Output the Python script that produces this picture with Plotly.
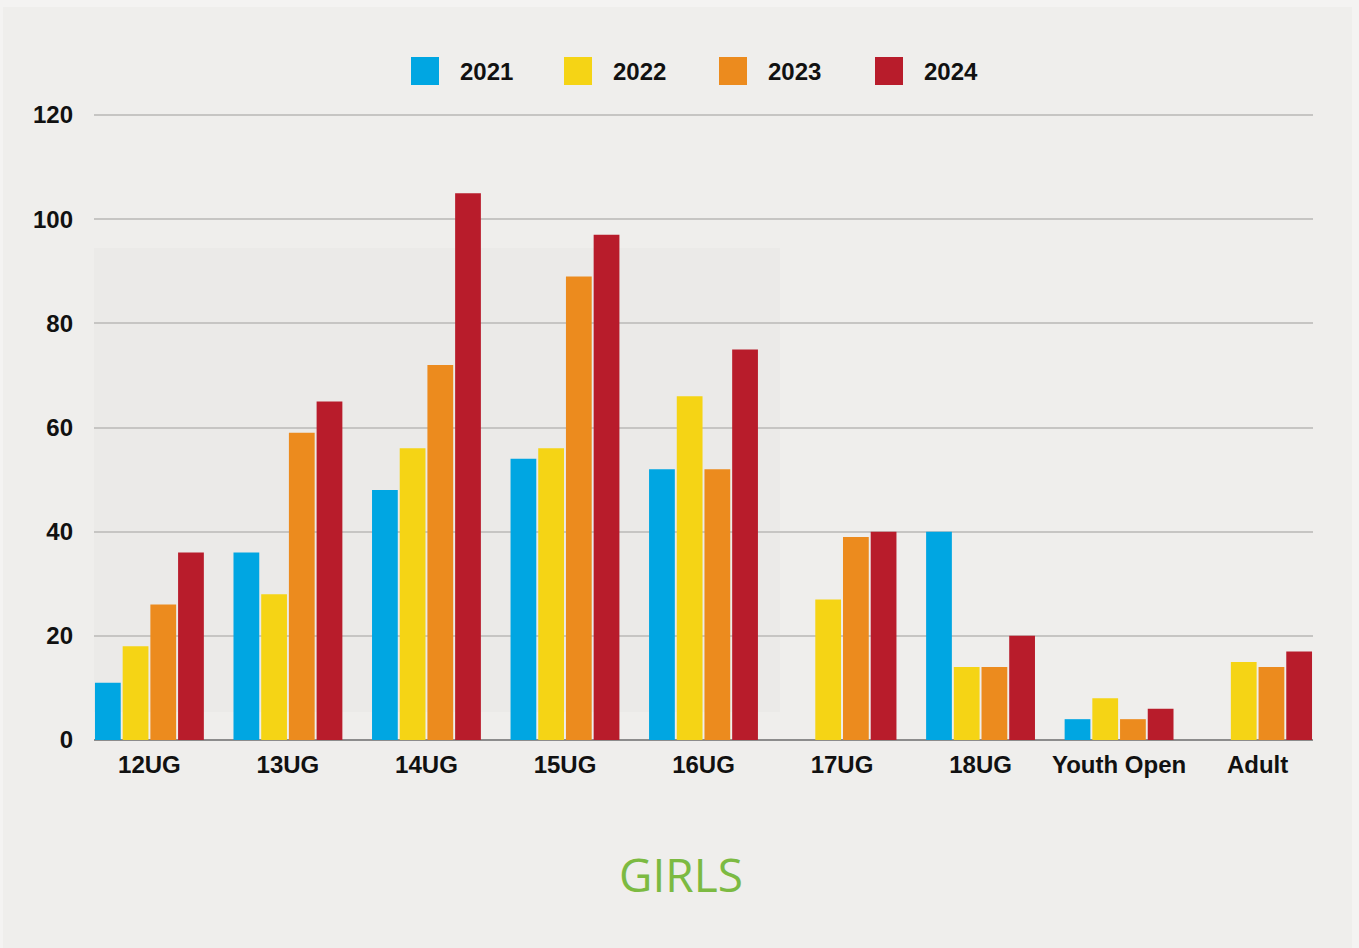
import plotly.graph_objects as go

categories = ["12UG", "13UG", "14UG", "15UG", "16UG", "17UG", "18UG", "Youth Open", "Adult"]
years = ["2021", "2022", "2023", "2024"]
v2021 = [11, 36, 48, 54, 52, None, 40, 4, None]
v2022 = [18, 28, 56, 56, 66, 27, 14, 8, 15]
v2023 = [26, 59, 72, 89, 52, 39, 14, 4, 14]
v2024 = [36, 65, 105, 97, 75, 40, 20, 6, 17]
series = [v2021, v2022, v2023, v2024]
colors = ["#00a6e2", "#f5d415", "#ec8b1e", "#b81c2b"]
y_ticks = [0, 20, 40, 60, 80, 100, 120]
title_text = "GIRLS"

W, H = 1359, 948
L, R, T, B = 94, 46, 113, 208
font_main = "Liberation Sans, Arial, sans-serif"

fig = go.Figure()
for name, vals, col in zip(years, series, colors):
    fig.add_trace(go.Bar(x=categories, y=vals, name=name, marker=dict(color=col, line=dict(width=0)),
                         showlegend=False))

pw, ph = W - L - R, H - T - B
shapes = []
annotations = []
# inner background (outer frame is paper colour)
shapes.append(dict(type="rect", xref="paper", yref="paper",
                   x0=(3 - L) / pw, x1=(1352 - L) / pw,
                   y0=(H - B - 948) / ph, y1=(H - B - 7) / ph,
                   fillcolor="#efeeec", line=dict(width=0), layer="below"))
# faint inner panel
shapes.append(dict(type="rect", xref="paper", yref="paper",
                   x0=0, x1=(780 - L) / pw,
                   y0=(740 - 712) / ph, y1=(740 - 248) / ph,
                   fillcolor="#ebeae8", line=dict(width=0), layer="below"))

# custom legend
leg_x = [411, 564, 719, 875]
for lx, name, col in zip(leg_x, years, colors):
    shapes.append(dict(type="rect", xref="paper", yref="paper",
                       x0=(lx - L) / pw, x1=(lx + 28 - L) / pw,
                       y0=(740 - 85) / ph, y1=(740 - 57) / ph,
                       fillcolor=col, line=dict(width=0), layer="above"))
    annotations.append(dict(text="<b>%s</b>" % name, xref="paper", yref="paper",
                            x=(lx + 47 - L) / pw, y=(740 - 71) / ph,
                            xanchor="left", yanchor="middle", showarrow=False,
                            font=dict(family=font_main, size=24, color="#111111")))

annotations.append(dict(text=title_text, xref="paper", yref="paper",
                        x=(681 - L) / pw, y=(740 - 874) / ph,
                        xanchor="center", yanchor="middle", showarrow=False,
                        font=dict(family="Open Sans, sans-serif", size=46, color="#7cba42")))

fig.update_layout(
    width=W, height=H,
    margin=dict(l=L, r=R, t=T, b=B, pad=0),
    paper_bgcolor="#f4f3f2",
    plot_bgcolor="rgba(0,0,0,0)",
    barmode="group",
    bargap=0.2,
    bargroupgap=0.07,
    showlegend=False,
    shapes=shapes,
    annotations=annotations,
    xaxis=dict(
        type="category",
        range=[-0.4, 8.4],
        showgrid=False,
        showline=False,
        ticks="",
        tickfont=dict(family=font_main, size=24, color="#111111", weight="bold"),
        ticklabelstandoff=8,
        fixedrange=True,
    ),
    yaxis=dict(
        range=[0, 120.4],
        tickvals=y_ticks,
        ticktext=[str(v) for v in y_ticks],
        showgrid=True,
        gridcolor="#c6c5c3",
        gridwidth=1.5,
        zeroline=True,
        zerolinecolor="#8c8c8c",
        zerolinewidth=2,
        showline=False,
        ticks="",
        tickfont=dict(family=font_main, size=24, color="#111111", weight="bold"),
        ticklabelstandoff=20,
        fixedrange=True,
    ),
)

fig.write_html("out.html",
               config={"displayModeBar": False},
               post_script="document.body.style.margin='0';document.body.style.background='#f4f3f2';document.body.style.overflow='hidden';")
